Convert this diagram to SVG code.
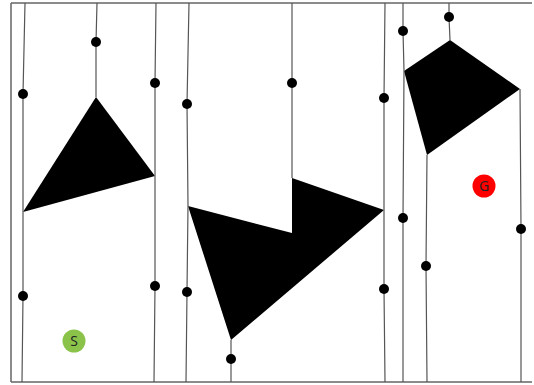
<svg xmlns="http://www.w3.org/2000/svg" width="534" height="385" viewBox="0 0 534 385">
<style>
.b{stroke:#666;stroke-width:1.5;fill:none}
.l{stroke:#555;stroke-width:1.2;fill:none}
.o{fill:#000}
.d{fill:#000}
.t{font-family:"Open Sans","Liberation Sans",sans-serif;font-size:14px;fill:#222;text-anchor:middle}
</style>
<rect width="534" height="385" fill="#fff"/>
<g id="border">
<path class="b" d="M11,3 H532 M11,3 V382 M11,382 H532"/>
</g>
<g id="obstacles">
<polygon id="obs1" class="o" points="96,97 155,176 23,212"/>
<polygon id="obs2" class="o" points="188,206 292,233 292,178 384,210 231,340"/>
<polygon id="obs3" class="o" points="404,71 450,40 520,89 427,155"/>
</g>
<g id="connectors">
<polyline class="l" points="25,3 23,94 23,212"/>
<polyline class="l" points="23,212 23,296 22,382"/>
<polyline class="l" points="97,3 96,42 96,97"/>
<polyline class="l" points="156,3 155,83 155,176"/>
<polyline class="l" points="155,176 155,286 154,382"/>
<polyline class="l" points="189,3 187,104 188,206"/>
<polyline class="l" points="188,206 187,292 186,382"/>
<polyline class="l" points="292,3 292,83 292,178"/>
<polyline class="l" points="231,340 231,359 231,382"/>
<polyline class="l" points="385,3 384,98 384,210"/>
<polyline class="l" points="384,210 384,289 385,382"/>
<polyline class="l" points="403,3 403,31 404,71"/>
<polyline class="l" points="404,71 403,218 403,382"/>
<polyline class="l" points="449,3 449,17 450,40"/>
<polyline class="l" points="427,155 426,266 427,382"/>
<polyline class="l" points="520,89 521,229 521,382"/>
</g>
<g id="waypoints">
<circle class="d" cx="23" cy="94" r="5"/>
<circle class="d" cx="23" cy="296" r="5"/>
<circle class="d" cx="96" cy="42" r="5"/>
<circle class="d" cx="155" cy="83" r="5"/>
<circle class="d" cx="155" cy="286" r="5"/>
<circle class="d" cx="187" cy="104" r="5"/>
<circle class="d" cx="187" cy="292" r="5"/>
<circle class="d" cx="292" cy="83" r="5"/>
<circle class="d" cx="231" cy="359" r="5"/>
<circle class="d" cx="384" cy="98" r="5"/>
<circle class="d" cx="384" cy="289" r="5"/>
<circle class="d" cx="403" cy="31" r="5"/>
<circle class="d" cx="403" cy="218" r="5"/>
<circle class="d" cx="449" cy="17" r="5"/>
<circle class="d" cx="426" cy="266" r="5"/>
<circle class="d" cx="521" cy="229" r="5"/>
</g>
<g id="goal">
<circle cx="484" cy="186" r="11.5" fill="#ff0000"/>
<text class="t" x="484" y="191">G</text>
</g>
<g id="start">
<circle cx="74" cy="341" r="11.5" fill="#8bc34a"/>
<text class="t" x="74" y="346">S</text>
</g>
</svg>
